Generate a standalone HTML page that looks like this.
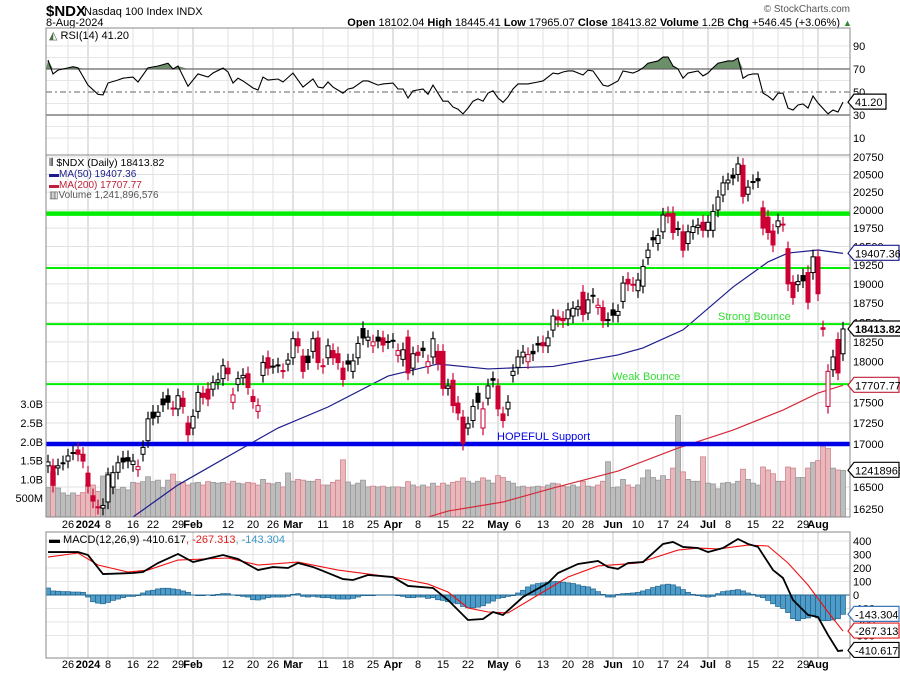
<!DOCTYPE html>
<html><head><meta charset="utf-8"><style>
body{margin:0;background:#fff;}
svg text{font-family:"Liberation Sans",sans-serif;}
</style></head><body>
<svg id="chart" width="900" height="673" xmlns="http://www.w3.org/2000/svg">
<g>
<text x="46" y="16" font-size="15" font-weight="bold">$NDX</text>
<text x="84" y="15" font-size="11">Nasdaq 100 Index  INDX</text>
<text x="46" y="26" font-size="11">8-Aug-2024</text>
<text x="850" y="12" font-size="10" fill="#555" text-anchor="end">© StockCharts.com</text>
<text x="840" y="26" font-size="11" text-anchor="end"><tspan font-weight="bold">Open</tspan> 18102.04 <tspan font-weight="bold">High</tspan> 18445.41 <tspan font-weight="bold">Low</tspan> 17965.07 <tspan font-weight="bold">Close</tspan> 18413.82 <tspan font-weight="bold">Volume</tspan> 1.2B <tspan font-weight="bold">Chg</tspan> +546.45 (+3.06%)</text>
<text x="843" y="26" font-size="9" fill="#2a8a2a">▲</text>
</g>
<g id="grid"></g>
<g id="rsi"></g>
<g id="price"></g>
<g id="macd"></g>
<g id="axes"></g>
</svg>
<script>
const O=[16745,16745,16720,16780,16800,16900,16930,16880,16660,16400,16275,16260,16330,16500,16670,16835,16840,16760,16700,16880,17040,17380,17330,17540,17580,17430,17420,17550,17250,17190,17390,17610,17660,17660,17745,17790,17920,17500,17720,17800,17850,17570,17390,17830,18050,17945,17960,17890,17970,18050,18290,18070,18070,18130,18300,17950,18050,18140,18100,17920,18010,17880,18050,18420,18270,18200,18310,18300,18255,18270,18080,18030,18310,17920,18120,18170,17940,18060,18130,18130,17670,17770,17490,17320,17190,17280,17610,17190,17550,17790,17700,17360,17420,17830,17930,18060,18000,18130,18230,18240,18200,18400,18570,18550,18545,18580,18670,18890,18620,18850,18690,18690,18535,18660,18590,18770,19060,18995,18910,18970,19350,19620,19540,19700,19950,19950,19745,19700,19540,19690,19760,19830,19720,19720,20000,20210,20380,20490,20500,20630,20220,20390,20440,20030,19900,19710,19770,19805,19470,19020,18990,19110,19150,19150,19360,18430,17450,17900,18280,18100];
const C=[16790,16520,16745,16775,16860,16895,16880,16800,16510,16340,16270,16290,16640,16665,16780,16790,16800,16800,16735,16960,17300,17310,17380,17470,17500,17420,17580,17450,17110,17330,17620,17560,17540,17740,17775,17950,17850,17590,17790,17830,17680,17510,17460,17990,17920,17940,17950,17880,18020,18290,18200,17880,17990,18290,17990,17940,18200,18050,17990,17780,17970,18010,18230,18300,18310,18250,18260,18210,18250,18260,18140,18150,17860,18100,18080,18140,18000,18290,17980,17670,17700,17460,17370,17010,17240,17450,17500,17420,17700,17770,17420,17280,17500,17880,18060,18120,18090,18100,18210,18200,18300,18580,18530,18520,18660,18680,18700,18600,18790,18840,18720,18520,18530,18590,18640,19010,19000,18990,19050,19230,19450,19590,19650,19930,19915,19690,19740,19450,19700,19770,19790,19720,19830,19980,20180,20380,20420,20450,20650,20190,20320,20400,20410,19750,19690,19520,19850,19800,19000,18820,19030,19040,18760,19360,18870,18410,17880,18060,17860,18414];
const VOL=[.78,1.2,.77,.64,.58,.64,.58,.65,.85,.85,.68,1.09,1.18,.78,.74,.79,.72,.92,.9,.94,1.07,.94,.98,.78,.98,1.14,.94,.92,.85,.9,.92,.85,.94,.92,.9,.92,.88,.95,.9,.88,.92,.9,.85,1.0,.9,.88,.92,.8,1.17,.95,1.0,.98,.95,.95,1.0,.85,.85,.92,.98,1.52,.93,.85,.9,.98,.8,.82,.8,.82,.78,.8,.8,.78,.94,.85,.8,.85,.8,.9,.82,.9,.85,.92,.95,1.04,.95,.9,.95,1.04,.98,.9,1.1,1.05,.95,.9,.8,.82,.78,.8,.82,.8,.85,.9,.88,.82,.8,.85,.8,.95,.82,.8,.85,.95,1.47,.78,.8,1.0,.85,.78,.85,1.04,1.25,1.05,.98,1.1,1.0,1.3,2.7,1.2,1.0,.95,.95,1.6,.9,.88,.75,.9,.92,.88,.95,1.27,1.0,.9,.85,1.33,1.25,1.15,.95,.95,1.33,1.3,1.05,1.05,1.3,1.45,1.5,1.87,1.82,1.3,1.25,1.24];
const MA50_I=[10,17,26,40,46,56,68,78,88,94,101,114,119,127,137,144,148,154,159];
const MA50_V=[15900,16160,16524,16989,17190,17443,17822,17972,17910,17926,17941,18085,18173,18402,18958,19292,19411,19452,19407];
const MA200_I=[70,76,80,91,101,114,126,137,147,154,159];
const MA200_V=[16050,16160,16227,16329,16488,16684,16953,17166,17406,17613,17708];
const RSI_I=[0,1,2,4,5,6,8,10,11,12,14,15,17,18,20,22,24,25,26,28,30,32,33,35,36,37,38,39,41,42,43,44,46,47,49,51,53,54,55,56,57,59,60,61,63,64,66,67,69,70,71,72,73,75,76,77,79,80,81,82,83,84,85,86,87,88,89,90,91,92,93,94,96,98,99,101,102,103,104,105,107,108,109,111,112,114,115,117,118,119,120,122,123,124,125,126,127,128,130,131,132,133,134,136,137,138,139,140,141,142,143,144,145,146,147,148,149,150,151,152,153,154,156,157,158,159];
const RSI_V=[77.8,65.7,69,71,72,71,56,48,47.5,57.8,60.4,62,63,58.7,71,72.6,75,70,72.6,55,65.7,63,66.5,70.8,67.4,57.8,62,59.6,53.5,51.7,63,60.4,61.3,58.7,66.5,54.3,61.3,54.3,53.5,58.7,54.3,49,52.6,53.5,59.6,59.6,56,57,57.8,52.6,52.6,44.8,51,52.6,48,56,42,42,37,35,31,36,42,44,42,49,51,44.8,41,45.7,52.6,57,57,58.7,59.6,66.5,65.7,67.4,68.3,68.3,64.8,69,68.3,56,55,59.6,68.3,66.5,68.3,71,75,77,80.4,80.4,72.6,70,62,66.5,68.3,64,66.5,71,75,77,77,79.6,62,64.8,65.7,65.7,49,46.5,43,49,49,36,34.3,38.7,39.6,36,46.5,40.4,31,34.3,32.6,41.2];
const MACD_I=[0,6,8,11,17,19,22,26,29,35,38,42,45,48,50,53,55,59,61,64,69,72,77,80,84,87,89,91,95,100,102,106,110,112,114,116,119,123,125,127,130,132,135,138,140,142,145,147,149,152,154,156,158,159];
const MACD_V=[318,318,296,155,163,170,237,304,244,296,267,185,207,200,237,207,178,118,111,148,133,67,52,-37,-185,-178,-126,-148,-15,89,163,230,252,207,193,237,244,378,393,356,348,318,348,415,378,356,185,126,-37,-148,-163,-296,-415,-410.6];
const SIG_I=[0,6,10,16,20,26,36,42,50,58,70,76,80,84,88,92,98,104,110,118,126,130,134,140,144,148,152,156,159];
const SIG_V=[281,311,222,170,185,259,274,222,244,185,126,81,22,-96,-126,-133,0,133,215,237,333,348,341,370,363,237,74,-126,-267.3];
const HIST=[52,30,28,25,25,22,22,20,-15,-50,-60,-65,-55,-40,-30,-20,-10,-10,-5,15,30,35,45,50,50,45,40,30,20,0,-5,-5,0,-5,5,10,10,0,-5,-10,-15,-35,-37,-30,-20,-15,-15,-15,-10,5,10,-10,-15,-10,-15,-20,-20,-25,-30,-30,-30,-25,-15,-5,-5,-5,0,0,0,0,-5,-10,-20,-20,-15,-15,-25,-20,-35,-40,-50,-60,-65,-85,-95,-95,-90,-80,-60,-45,-25,-20,-10,-5,15,35,60,75,85,90,95,100,100,95,90,85,75,65,60,45,25,5,-15,-15,5,10,12,15,20,30,40,55,65,75,80,75,60,40,20,5,-5,-10,-15,-10,10,25,30,35,40,30,15,5,-10,-20,-40,-65,-85,-100,-130,-175,-190,-175,-170,-150,-170,-190,-190,-185,-175,-143];
const LEVELS=[19950,19210,18477,17723,17000];
const PRICE_TICKS=[20750,20500,20250,20000,19750,19500,19250,19000,18750,18500,18250,18000,17750,17500,17250,17000,16500,16250];
const VOL_TICKS=["3.0B","2.5B","2.0B","1.5B","1.0B","500M"];
const VOL_TICK_V=[3,2.5,2,1.5,1,0.5];
const RSI_TICKS=[90,70,50,30,10];
const MACD_TICKS=[400,300,200,100,0,-100,-200,-300];
const DATE_I=[4,8,12,17,21,26,29,36,41,45,49,55,60,65,69,74,79,84,90,94,99,104,108,113,118,123,127,132,136,141,146,151,154];
const DATE_L=["26","2024","8","16","22","29","Feb","12","20","26","Mar","11","18","25","Apr","8","15","22","May","6","13","20","28","Jun","10","17","24","Jul","8","15","22","29","Aug"];
const DATE_MAJOR=[0,1,0,0,0,0,1,0,0,0,1,0,0,0,1,0,0,0,1,0,0,0,0,1,0,0,0,1,0,0,0,0,1];

const NS="http://www.w3.org/2000/svg";
const L=46,R=850,RT=28,RB=155,PT=155,PB=517,MT=532,MB=658;
const xS=i=>48+i*5;
const yP=p=>157+1440*Math.log(20750/p);
const yV=v=>PB-v*37.6;
const yR=r=>92-(r-50)*1.15;
const yM=v=>595-v*0.135;
function el(tag,attrs,parent){const e=document.createElementNS(NS,tag);for(const k in attrs)e.setAttribute(k,attrs[k]);parent.appendChild(e);return e;}
const grid=document.getElementById('grid'),rsi=document.getElementById('rsi'),price=document.getElementById('price'),macd=document.getElementById('macd'),axes=document.getElementById('axes');

const defs=el('defs',{},grid);
const cp=el('clipPath',{id:'pclip'},defs);el('rect',{x:L,y:PT,width:R-L,height:PB-PT},cp);
const cm=el('clipPath',{id:'mclip'},defs);el('rect',{x:L,y:MT,width:R-L,height:MB-MT},cm);

DATE_I.forEach((d,k)=>{
 [[RT,RB],[PT,PB],[MT,MB]].forEach(([a,b])=>{
  const g=el('line',{x1:xS(d),x2:xS(d),y1:a,y2:b,stroke:DATE_MAJOR[k]?'#c4c4c4':'#e2e2e2','stroke-width':1},grid);
  
  
 });
 const t=el('text',{x:xS(d),y:528,'font-size':11,'text-anchor':'middle','font-weight':DATE_MAJOR[k]?'bold':'normal'},axes);
 t.textContent=DATE_L[k];
 
 
 const t2=el('text',{x:xS(d),y:668,'font-size':11,'text-anchor':'middle','font-weight':DATE_MAJOR[k]?'bold':'normal'},axes);
 t2.textContent=DATE_L[k];
 
 
});
PRICE_TICKS.forEach(p=>{
 const g=el('line',{x1:L,x2:R,y1:yP(p),y2:yP(p),stroke:'#e2e2e2'},grid);
 
 
 const t=el('text',{x:853,y:yP(p)+4,'font-size':11},axes);
 t.textContent=p;
 
 
});
VOL_TICK_V.forEach((v,k)=>{
 const t=el('text',{x:43,y:yV(v)+4,'font-size':11,'text-anchor':'end'},axes);
 t.textContent=VOL_TICKS[k];
 
 
});
[10,20,30,40,60,80,90].forEach(r=>{const g=el('line',{x1:L,x2:R,y1:yR(r),y2:yR(r),stroke:'#e6e6e6'},grid);});
RSI_TICKS.forEach(r=>{const t=el('text',{x:853,y:yR(r)+4,'font-size':11},axes);t.textContent=r;});
MACD_TICKS.forEach(v=>{
 const g=el('line',{x1:L,x2:R,y1:yM(v),y2:yM(v),stroke:'#e6e6e6'},grid);
 
 const t=el('text',{x:853,y:yM(v)+4,'font-size':11},axes);t.textContent=v;
 
});

const rpts=RSI_I.map((d,k)=>[xS(d),yR(RSI_V[k])]);
const y70=yR(70);
const fill=el('path',{d:'M'+L+','+y70+' '+rpts.map(p=>'L'+p[0]+','+Math.min(p[1],y70)).join(' ')+' L'+xS(159)+','+y70+' Z',fill:'#6b8f68',stroke:'none'},rsi);

[70,30].forEach(r=>{const g=el('line',{x1:L,x2:R,y1:yR(r),y2:yR(r),stroke:'#666','stroke-width':1.2},rsi);});
const g50=el('line',{x1:L,x2:R,y1:yR(50),y2:yR(50),stroke:'#666','stroke-dasharray':'6,3,2,3'},rsi);

const rl=el('polyline',{points:rpts.map(p=>p.join(',')).join(' '),fill:'none',stroke:'#000','stroke-width':1.1},rsi);


const pg=el('g',{'clip-path':'url(#pclip)'},price);
VOL.forEach((v,i)=>{
 const down=i>0?C[i]<C[i-1]:false;
 const b=el('rect',{x:xS(i)-2.5,y:yV(v),width:5,height:v*37.6,fill:down?'#e8b8bc':'#bdbdbd',stroke:down?'#d0848c':'#999','stroke-width':0.8},pg);
 
 
});
const m50=el('polyline',{points:MA50_I.map((d,k)=>xS(d)+','+yP(MA50_V[k])).join(' '),fill:'none',stroke:'#1c1c8c','stroke-width':1.2},pg);

const m200=el('polyline',{points:MA200_I.map((d,k)=>xS(d)+','+yP(MA200_V[k])).join(' '),fill:'none',stroke:'#d42a3a','stroke-width':1.2},pg);

LEVELS.forEach((lv,k)=>{
 const ln=el('line',{x1:L,x2:R,y1:yP(lv),y2:yP(lv),stroke:k==4?'#0000e6':'#00ee00','stroke-width':(k==0||k==4)?4.5:2},pg);
 
 
});
C.forEach((c,i)=>{
 const o=O[i],up=c>=o,down=i>0?c<C[i-1]:false,col=down?'#cc0033':'#000';
 const top=Math.max(o,c),bot=Math.min(o,c);
 const w=el('line',{x1:xS(i),x2:xS(i),y1:yP(top*1.005),y2:yP(bot*0.995),stroke:col,'stroke-width':1.2},pg);
 
 const h=Math.max(1,yP(bot)-yP(top));
 const b=el('rect',{x:xS(i)-2,y:yP(top),width:4,height:h,fill:up?'#fff':col,stroke:col,'stroke-width':1},pg);
 
});

const mg=el('g',{'clip-path':'url(#mclip)'},macd);
HIST.forEach((v,i)=>{
 const b=el('rect',{x:xS(i)-2.5,y:Math.min(yM(0),yM(v)),width:5,height:Math.abs(v*0.135),fill:'#4f9cc8',stroke:'#22648f','stroke-width':0.7},mg);
 
});
const zl=el('line',{x1:L,x2:R,y1:yM(0),y2:yM(0),stroke:'#22648f','stroke-width':1},mg);

const sl=el('polyline',{points:SIG_I.map((d,k)=>xS(d)+','+yM(SIG_V[k])).join(' '),fill:'none',stroke:'#f01010','stroke-width':1.1},mg);

const ml=el('polyline',{points:MACD_I.map((d,k)=>xS(d)+','+yM(MACD_V[k])).join(' '),fill:'none',stroke:'#000','stroke-width':1.8},mg);


[[RT,RB],[PT,PB],[MT,MB]].forEach(([a,b])=>{
 const r=el('rect',{x:L,y:a,width:R-L,height:b-a,fill:'none',stroke:'#888','stroke-width':1},axes);
 
});

function box(y,txt,col,bold,name,w){
 const g=el('g',{},axes);
 
 
 el('path',{d:`M${R-2},${y} L${R+4},${y-8} L${R+4+w},${y-8} L${R+4+w},${y+7} L${R+4},${y+7} Z`,fill:'#fff',stroke:col,'stroke-width':1.2},g);
 const t=el('text',{x:R+5,y:y+4,'font-size':11,'font-weight':bold?'bold':'normal',fill:'#000'},g);
 t.textContent=txt;
}
box(yR(41.2),'41.20','#000',false,'rsi-value-box',32);
box(yP(19407.36),'19407.36','#1c1c8c',false,'ma50-value-box',45);
box(yP(18413.82),'18413.82','#000',true,'close-value-box',47);
box(yP(17707.77),'17707.77','#c0203a',false,'ma200-value-box',45);
box(yV(1.2419),'12418965','#000',false,'volume-value-box',45);
box(yM(-143.304),'-143.304','#3a78b8',false,'histogram-value-box',45);
box(yM(-267.313),'-267.313','#e02020',false,'signal-value-box',45);
box(yM(-410.617),'-410.617','#000',false,'macd-value-box',45);
</script>
<svg style="position:absolute;left:0;top:0" width="900" height="673">
<g font-family="Liberation Sans, sans-serif">
<text x="49" y="39" font-size="11"><tspan fill="#4b6e48">◭</tspan> RSI(14) 41.20</text>
<text x="49" y="166" font-size="10.5">⫴ $NDX (Daily) 18413.82</text>
<text x="49" y="177" font-size="10" fill="#1c1c8c">▬MA(50) 19407.36</text>
<text x="49" y="188" font-size="10" fill="#c0203a">▬MA(200) 17707.77</text>
<text x="49" y="198" font-size="10" fill="#555">▥Volume 1,241,896,576</text>
<text x="718" y="320" font-size="11" fill="#33dd33">Strong Bounce</text>
<text x="612" y="380" font-size="11" fill="#33dd33">Weak Bounce</text>
<text x="497" y="440" font-size="11" fill="#0000e6">HOPEFUL Support</text>
<text x="49" y="543" font-size="11">▬ MACD(12,26,9) -410.617<tspan fill="#e02020">, -267.313</tspan><tspan fill="#3a98c8">, -143.304</tspan></text>
</g>
</svg>
</body></html>
